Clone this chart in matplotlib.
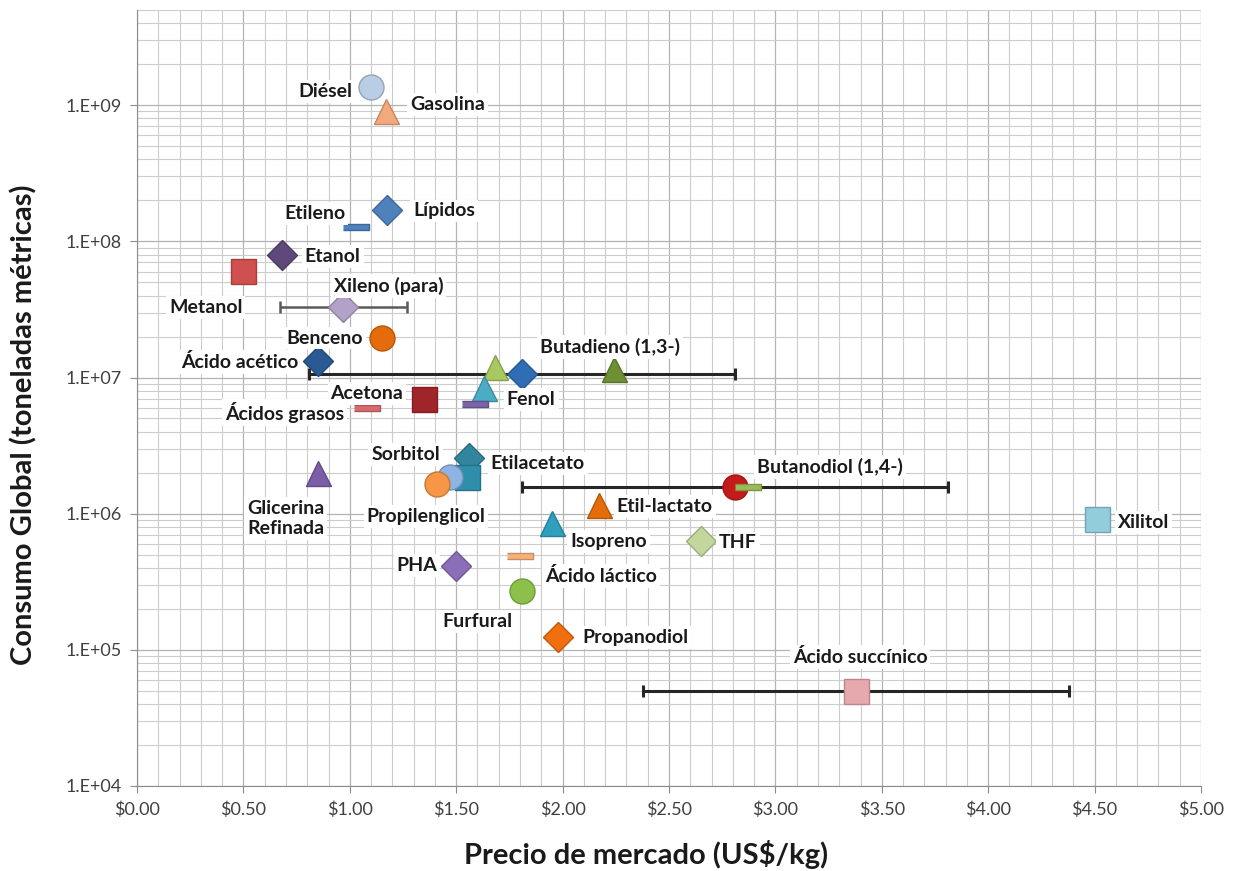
import numpy as np
import matplotlib
matplotlib.use("Agg")
import matplotlib.pyplot as plt
from matplotlib.ticker import FuncFormatter, MultipleLocator, LogLocator

plt.rcParams['font.family'] = ['Lato', 'DejaVu Sans']

# precio (US$/kg) y consumo global (t)
labels = ['Diésel', 'Gasolina', 'Lípidos', 'Etileno', 'Etanol', 'Metanol',
          'Xileno (para)', 'Benceno', 'Ácido acético', '', '',
          'Butadieno (1,3-)', 'Fenol', '', 'Acetona', 'Ácidos grasos',
          'Sorbitol', 'Etilacetato', '', 'Propilenglicol',
          'Glicerina\nRefinada', 'Butanodiol (1,4-)', '', 'Etil-lactato',
          'Xilitol', 'Isopreno', 'THF', 'Ácido láctico', 'PHA', 'Furfural',
          'Propanodiol', 'Ácido succínico']
precio = [1.10, 1.17, 1.175, 1.03, 0.68, 0.50,
          0.97, 1.15, 0.85, 1.81, 1.68,
          2.24, 1.63, 1.59, 1.35, 1.08,
          1.56, 1.55, 1.47, 1.41,
          0.85, 2.81, 2.87, 2.17,
          4.51, 1.95, 2.65, 1.80, 1.50, 1.81,
          1.98, 3.38]
consumo = [1.35e9, 9.0e8, 1.7e8, 1.27e8, 7.9e7, 6.1e7,
           3.3e7, 1.95e7, 1.33e7, 1.07e7, 1.2e7,
           1.15e7, 8.4e6, 6.4e6, 6.9e6, 6.0e6,
           2.55e6, 1.85e6, 1.85e6, 1.66e6,
           2.0e6, 1.58e6, 1.57e6, 1.16e6,
           9.2e5, 8.6e5, 6.3e5, 4.9e5, 4.15e5, 2.7e5,
           1.25e5, 5.0e4]
# rango de precio (+/-) por indice de punto
rango_idx = {6: 0.30, 9: 1.0, 21: 1.0, 31: 1.0}

dash = [(-1, -0.24), (1, -0.24), (1, 0.24), (-1, 0.24)]
marcas = ['o', '^', 'D', dash, 'D', 's',
          'D', 'o', 'D', 'D', '^',
          '^', '^', dash, 's', dash,
          'D', 's', 'o', 'o',
          '^', 'o', dash, '^',
          's', '^', 'D', dash, 'D', 'o',
          'D', 's']
colores = ['#b9cde5', '#f4a97c', '#4f81bd', '#4f81bd', '#5f497a', '#d0504f',
           '#b3a2c7', '#e46c0a', '#2a5a94', '#2f6db5', '#a9c862',
           '#6f8f35', '#4bacc6', '#7c64a8', '#a0252a', '#d96b6e',
           '#31859c', '#2f8faa', '#8eb4e3', '#f79646',
           '#7b5ea7', '#c41a1a', '#9bbb59', '#e46c0a',
           '#92cddc', '#2f9fc0', '#c3d69b', '#f7b27a', '#8a6fb8', '#8cc04a',
           '#f26f0f', '#e6a9ae']
tamanos = {'o': 18, '^': 18, 'D': 15, 's': 18}

# posicion de cada etiqueta respecto al marcador (px, hacia abajo +)
desplaz = {
    'Diésel': (-19, 4, 'right'), 'Gasolina': (24, -7, 'left'),
    'Lípidos': (26, 1, 'left'), 'Etileno': (-11, -14, 'right'),
    'Etanol': (23, 1, 'left'), 'Metanol': (-1, 37, 'right'),
    'Xileno (para)': (45, -21, 'center'), 'Benceno': (-19, 0, 'right'),
    'Ácido acético': (-20, 1, 'right'), 'Butadieno (1,3-)': (-4, -22, 'center'),
    'Fenol': (23, 12, 'left'), 'Acetona': (-21, -6, 'right'),
    'Ácidos grasos': (-23, 5, 'right'), 'Sorbitol': (-29, -4, 'right'),
    'Etilacetato': (24, -14, 'left'), 'Propilenglicol': (-11, 33, 'center'),
    'Glicerina\nRefinada': (-32, 46, 'center'),
    'Butanodiol (1,4-)': (22, -20, 'left'), 'Etil-lactato': (18, 2, 'left'),
    'Xilitol': (21, 4, 'left'), 'Isopreno': (18, 19, 'left'),
    'THF': (18, 2, 'left'), 'Ácido láctico': (25, 20, 'left'),
    'PHA': (-19, 0, 'right'), 'Furfural': (-45, 30, 'center'),
    'Propanodiol': (24, 1, 'left'), 'Ácido succínico': (4, -34, 'center'),
}

fig = plt.figure(figsize=(12.39, 8.71), dpi=100)
ax = fig.add_axes([0.1106, 0.0976, 0.8587, 0.8909])

ax.set_xlim(0, 5)
ax.set_ylim(1e4, 5e9)
ax.set_yscale('log')

# rejilla
ax.xaxis.set_major_locator(MultipleLocator(0.5))
ax.xaxis.set_minor_locator(MultipleLocator(0.1))
ax.yaxis.set_major_locator(LogLocator(base=10, numticks=10))
ax.yaxis.set_minor_locator(LogLocator(base=10, subs=np.arange(2, 10), numticks=20))
ax.grid(True, which='major', color='#b3b3b3', lw=0.9)
ax.grid(True, which='minor', color='#cccccc', lw=0.8)
ax.set_axisbelow(True)

ax.xaxis.set_major_formatter(FuncFormatter(lambda v, p: '$%.2f' % v))
ax.yaxis.set_major_formatter(FuncFormatter(lambda v, p: '1.E+%02d' % round(np.log10(v))))
ax.tick_params(which='major', length=5, color='#8c8c8c', labelsize=13,
               labelcolor='#404040', pad=6)
ax.tick_params(which='minor', length=0)
for s in ['top', 'right']:
    ax.spines[s].set_visible(False)
for s in ['left', 'bottom']:
    ax.spines[s].set_color('#8c8c8c')

# barras de rango de precio
for i, r in rango_idx.items():
    w = 2.2 if r == 1.0 else 1.8
    c = '#262626' if r == 1.0 else '#5a5a5a'
    ax.errorbar(precio[i], consumo[i], xerr=r, fmt='none', ecolor=c,
                elinewidth=w, capsize=4, capthick=w, zorder=2)

for i in range(len(labels)):
    m = marcas[i]
    if isinstance(m, list):
        ms = 19
    else:
        ms = tamanos[m]
    borde = np.array(matplotlib.colors.to_rgb(colores[i])) * 0.8
    ax.plot(precio[i], consumo[i], marker=m, ms=ms, color=colores[i],
            mec=borde, mew=1, ls='none', zorder=3)
    if labels[i]:
        dx, dy, ha = desplaz[labels[i]]
        ax.annotate(labels[i], (precio[i], consumo[i]), xytext=(dx, -dy),
                    textcoords='offset pixels', ha=ha, va='center',
                    fontsize=14, fontweight='bold', color='#1a1a1a',
                    linespacing=1.25, zorder=4,
                    bbox=dict(boxstyle='square,pad=0.15', fc='white', ec='none'))

ax.set_xlabel('Precio de mercado (US$/kg)', fontsize=21, fontweight='bold',
              color='#1a1a1a')
ax.set_ylabel('Consumo Global (toneladas métricas)', fontsize=21,
              fontweight='bold', color='#1a1a1a')
ax.xaxis.set_label_coords(0.478, -0.070)
ax.yaxis.set_label_coords(-0.094, 0.465)

fig.savefig('out.png', dpi=100)
